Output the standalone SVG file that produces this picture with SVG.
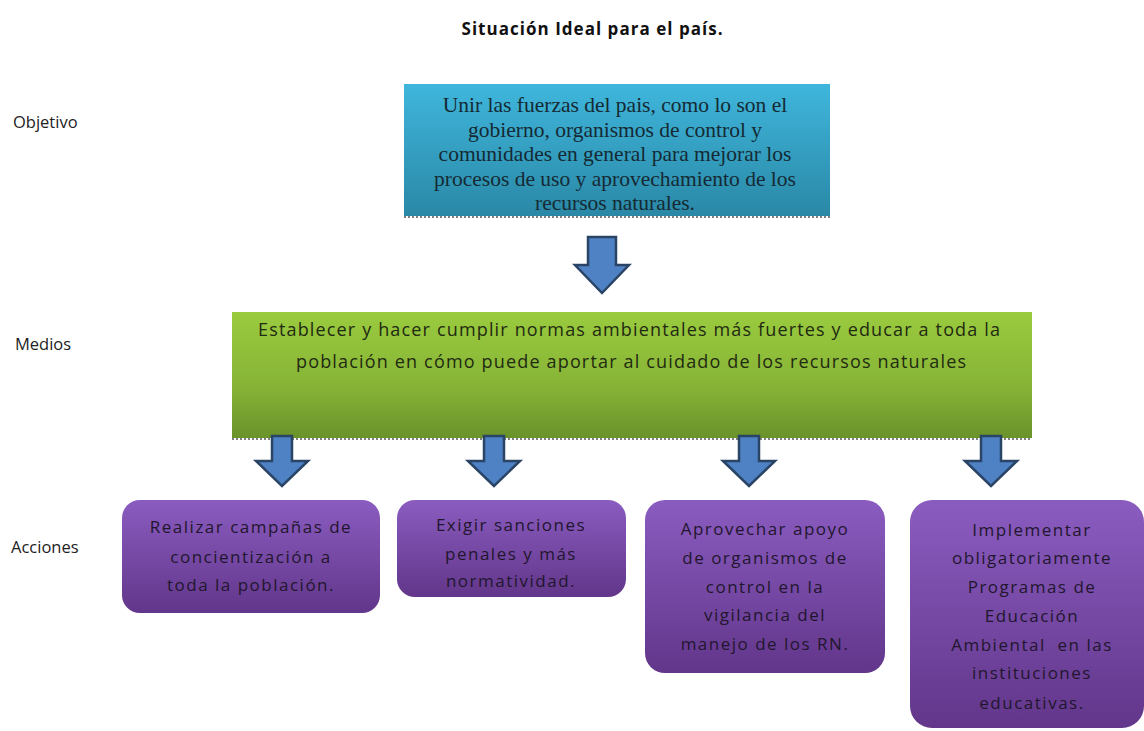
<svg xmlns="http://www.w3.org/2000/svg" width="1144" height="731" viewBox="0 0 1144 731">
<defs>
<linearGradient id="gBlue" x1="0" y1="0" x2="0" y2="1"><stop offset="0" stop-color="#3fb6dc"/><stop offset="1" stop-color="#2a88a6"/></linearGradient>
<linearGradient id="gGreen" x1="0" y1="0" x2="0" y2="1"><stop offset="0" stop-color="#9acb3e"/><stop offset="0.6" stop-color="#86b336"/><stop offset="1" stop-color="#6a922a"/></linearGradient>
<linearGradient id="gPurple" x1="0" y1="0" x2="0" y2="1"><stop offset="0" stop-color="#8a5cc0"/><stop offset="1" stop-color="#62368a"/></linearGradient>
<path id="arrowBig" d="M-14,0 H14 V28 H27 L0,56 L-27,28 H-14 Z"/>
<path id="arrowSm" d="M-10,0 H10 V25 H26 L0,50 L-26,25 H-10 Z"/>
</defs>
<style>
.lbl{font-family:"Open Sans","Liberation Sans",sans-serif;font-size:16.5px;fill:#222}
.title{font-family:"Open Sans","Liberation Sans",sans-serif;font-size:17px;font-weight:bold;fill:#111}
.serif{font-family:"Liberation Serif","Times New Roman",serif;font-size:21.5px;fill:#152a33;text-anchor:middle}
.sans{font-family:"Open Sans","Liberation Sans",sans-serif;font-size:18px;fill:#1f2a12;text-anchor:middle}
.ptxt{font-family:"Open Sans","Liberation Sans",sans-serif;font-size:17px;fill:#22162e;text-anchor:middle;letter-spacing:1.5px}
.arr{fill:#4f82c4;stroke:#2a4466;stroke-width:2.5;stroke-linejoin:miter}
.shadow{stroke:#555;stroke-width:1.5;stroke-dasharray:2 2;fill:none}
</style>
<rect width="1144" height="731" fill="#ffffff"/>
<text class="title" x="592" y="35" text-anchor="middle" textLength="261" lengthAdjust="spacing">Situación Ideal para el país.</text>
<text class="lbl" x="13" y="128">Objetivo</text>
<text class="lbl" x="15" y="350">Medios</text>
<text class="lbl" x="11" y="553">Acciones</text>

<g id="objetivo">
<rect x="404" y="84" width="426" height="132" fill="url(#gBlue)"/>
<line class="shadow" x1="404" y1="217" x2="830" y2="217"/>
<text class="serif" x="615" y="112">Unir las fuerzas del pais, como lo son el</text>
<text class="serif" x="615" y="137">gobierno, organismos de control y</text>
<text class="serif" x="615" y="161">comunidades en general para mejorar los</text>
<text class="serif" x="615" y="186">procesos de uso y aprovechamiento de los</text>
<text class="serif" x="615" y="210">recursos naturales.</text>
</g>

<g id="medios">
<rect x="232" y="312" width="800" height="126" fill="url(#gGreen)"/>
<line class="shadow" x1="232" y1="439" x2="1032" y2="439"/>
<text class="sans" x="629" y="336" textLength="742" lengthAdjust="spacing">Establecer y hacer cumplir normas ambientales más fuertes y educar a toda la</text>
<text class="sans" x="631" y="368" textLength="670" lengthAdjust="spacing">población en cómo puede aportar al cuidado de los recursos naturales</text>
</g>

<g id="accion1">
<rect x="122" y="500" width="258" height="113" rx="18" fill="url(#gPurple)"/>
<text class="ptxt" x="251" y="533">Realizar campañas  de</text>
<text class="ptxt" x="251" y="563">concientización a</text>
<text class="ptxt" x="251" y="591">toda la población.</text>
</g>

<g id="accion2">
<rect x="397" y="500" width="229" height="97" rx="18" fill="url(#gPurple)"/>
<text class="ptxt" x="511" y="531">Exigir sanciones</text>
<text class="ptxt" x="511" y="560">penales y más</text>
<text class="ptxt" x="511" y="587">normatividad.</text>
</g>

<g id="accion3">
<rect x="645" y="500" width="240" height="173" rx="20" fill="url(#gPurple)"/>
<text class="ptxt" x="765" y="535">Aprovechar apoyo</text>
<text class="ptxt" x="765" y="564">de organismos de</text>
<text class="ptxt" x="765" y="593">control en la</text>
<text class="ptxt" x="765" y="621">vigilancia del</text>
<text class="ptxt" x="765" y="650">manejo de los RN.</text>
</g>

<g id="accion4">
<rect x="910" y="500" width="234" height="228" rx="22" fill="url(#gPurple)"/>
<text class="ptxt" x="1032" y="536">Implementar</text>
<text class="ptxt" x="1032" y="564">obligatoriamente</text>
<text class="ptxt" x="1032" y="593">Programas de</text>
<text class="ptxt" x="1032" y="622">Educación</text>
<text class="ptxt" x="1032" y="651" xml:space="preserve">Ambiental  en las</text>
<text class="ptxt" x="1032" y="679">instituciones</text>
<text class="ptxt" x="1032" y="709">educativas.</text>
</g>

<g id="connectors">
<use href="#arrowBig" class="arr" x="602" y="237"/>
<use href="#arrowSm" class="arr" x="282" y="436"/>
<use href="#arrowSm" class="arr" x="494" y="436"/>
<use href="#arrowSm" class="arr" x="749" y="436"/>
<use href="#arrowSm" class="arr" x="991" y="436"/>
</g>
</svg>
